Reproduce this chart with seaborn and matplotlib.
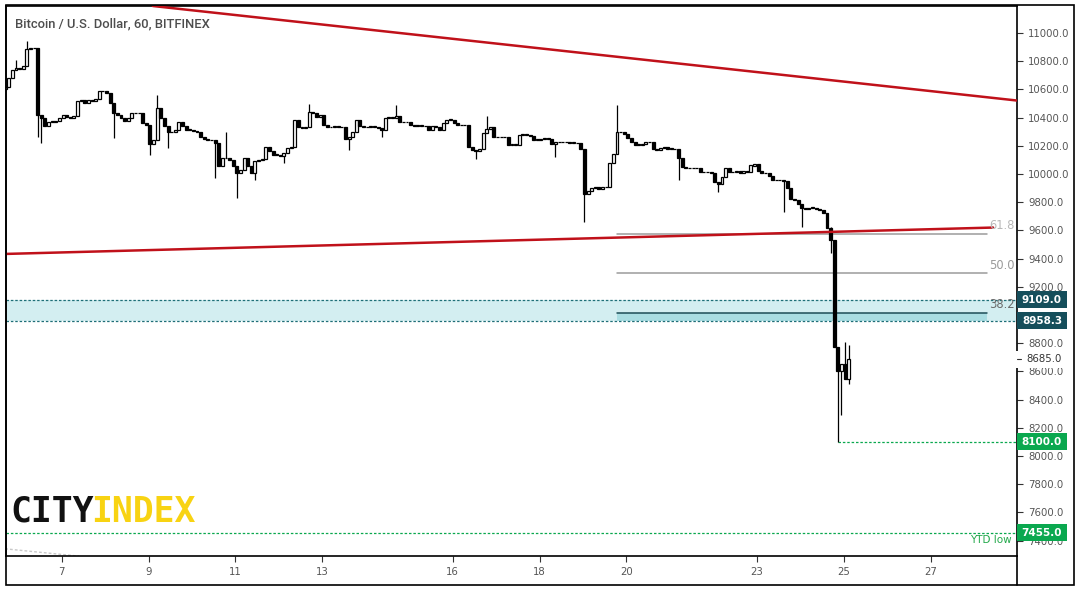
import numpy as np
import pandas as pd
import seaborn as sns
import matplotlib.pyplot as plt
import matplotlib.transforms as mtransforms
from matplotlib.patches import Rectangle
from matplotlib.lines import Line2D

# BTC/USD, 2-hour closes (Sep 2019), one row per day
start_day = 5.70
bar_days = 1 / 12
first_open = 10600
closes = [
    10620, 10680, 10740,
    10750, 10745, 10765, 10885, 10890, 10895, 10420, 10395, 10340, 10370, 10372, 10375,
    10400, 10415, 10405, 10400, 10410, 10520, 10525, 10505, 10525, 10515, 10530, 10585,
    10590, 10575, 10500, 10430, 10415, 10400, 10375, 10395, 10430, 10435, 10430, 10360,
    10345, 10210, 10240, 10465, 10400, 10340, 10300, 10295, 10310, 10365, 10340, 10312,
    10315, 10305, 10300, 10265, 10245, 10240, 10238, 10220, 10060, 10115, 10110, 10100,
    10060, 10005, 10025, 10110, 10060, 10005, 10095, 10100, 10105, 10190, 10160, 10135,
    10135, 10125, 10150, 10185, 10190, 10380, 10330, 10325, 10330, 10440, 10430, 10405,
    10420, 10350, 10335, 10330, 10340, 10330, 10335, 10245, 10260, 10295, 10380, 10340,
    10335, 10330, 10340, 10330, 10325, 10310, 10400, 10405, 10400, 10410, 10370, 10365,
    10370, 10345, 10340, 10345, 10338, 10340, 10312, 10340, 10335, 10315, 10360, 10385,
    10385, 10360, 10350, 10345, 10350, 10190, 10170, 10165, 10175, 10290, 10320, 10330,
    10265, 10260, 10265, 10260, 10205, 10210, 10205, 10275, 10280, 10275, 10270, 10240,
    10240, 10245, 10255, 10250, 10210, 10225, 10230, 10225, 10228, 10220, 10222, 10218,
    10175, 9860, 9880, 9900, 9905, 9895, 9905, 9910, 10075, 10140, 10300, 10295,
    10280, 10255, 10230, 10206, 10208, 10215, 10228, 10225, 10180, 10172, 10185, 10188,
    10180, 10178, 10175, 10110, 10050, 10045, 10040, 10045, 10040, 10015, 10012, 10015,
    10010, 9945, 9930, 9980, 10040, 10015, 10012, 10020, 10010, 10018, 10012, 10060,
    10070, 10020, 10005, 10008, 9985, 9960, 9955, 9958, 9950, 9900, 9820, 9815,
    9790, 9760, 9755, 9762, 9758, 9750, 9745, 9720, 9620, 9530, 8770, 8600,
    8650, 8545, 8685,
]

# wick extremes that stick out of the bodies
spike_bars = [3, 6, 9, 10, 30, 40, 42, 45, 58, 61, 64, 69, 77, 84, 95, 104, 108,
              130, 133, 152, 160, 169, 186, 197, 215, 220, 228, 230, 231, 232, 233]
spike_highs = [10810, 10940, np.nan, np.nan, np.nan, np.nan, 10560, np.nan, np.nan, 10300,
               np.nan, np.nan, np.nan, 10495, np.nan, np.nan, 10490, np.nan, 10410, np.nan,
               np.nan, 10490, np.nan, np.nan, np.nan, np.nan, 9625, np.nan, np.nan, 8810, 8790]
spike_lows = [np.nan, np.nan, 10265, 10220, 10256, 10135, np.nan, 10185, 9972, np.nan,
              9830, 9957, 10078, np.nan, 10170, 10262, np.nan, 10105, np.nan, 10120,
              9660, np.nan, 9960, 9870, 9730, 9625, 9440, 8100, 8290, np.nan, 8510]

# drawn levels
upper_trend_x = [9.10, 29.01]
upper_trend_y = [11191, 10520]
lower_trend_x = [5.72, 28.44]
lower_trend_y = [9433, 9620]
fade_line_x = [5.70, 7.40]
fade_line_y = [7342, 7290]
zone_top = 9109.0
zone_bottom = 8958.3
swing_high_bar = 169
swing_high = 10490
swing_low = 8100
fib_ratios = [0.618, 0.5, 0.382]
fib_labels = ["61.8", "50.0", "38.2"]
fib_end_day = 28.30
ytd_low = 7455.0
last_price = 8685.0

day_ticks = [7, 9, 11, 13, 16, 18, 20, 23, 25, 27]
price_ticks = list(range(7400, 11001, 200))
hidden_price_ticks = [9000]  # sits under the zone tags

# candles
df = pd.DataFrame({"close": closes})
df["day"] = start_day + bar_days * np.arange(len(df))
df["open"] = [first_open] + closes[:-1]
df["high"] = df[["open", "close"]].max(axis=1)
df["low"] = df[["open", "close"]].min(axis=1)
for b, h, l in zip(spike_bars, spike_highs, spike_lows):
    if not np.isnan(h):
        df.loc[b, "high"] = max(df.loc[b, "high"], h)
    if not np.isnan(l):
        df.loc[b, "low"] = min(df.loc[b, "low"], l)

sns.set_style("white")
plt.rcParams["font.family"] = ["DejaVu Sans"]

fig = plt.figure(figsize=(10.8, 5.9), dpi=100)
ax = fig.add_axes([6 / 1080, 34 / 590, 1011 / 1080, 550 / 590])
ax.set_xlim(5.72, 28.99)
ax.set_ylim(7291, 11191)
blend = mtransforms.blended_transform_factory(ax.transAxes, ax.transData)

# zone and levels
teal = "#1f6f78"
ax.axhspan(zone_bottom, zone_top, color="#d3eef1", lw=0, zorder=1)
for lvl in [zone_top, zone_bottom]:
    ax.axhline(lvl, color=teal, lw=0.9, ls=(0, (2, 1.5)), zorder=2)

fib_start_day = df.loc[swing_high_bar, "day"]
fib_prices = [swing_low + r * (swing_high - swing_low) for r in fib_ratios]
ax.fill_between([fib_start_day, fib_end_day], zone_bottom, fib_prices[2],
                color="#a9dde2", lw=0, zorder=1.5)
fib_colors = ["#9b9b9b", "#9b9b9b", "#1d4d57"]
fib_text_colors = ["#b8b8b8", "#9a9a9a", "#6a6a6a"]
for p, lab, c, tc in zip(fib_prices, fib_labels, fib_colors, fib_text_colors):
    ax.plot([fib_start_day, fib_end_day], [p, p], color=c, lw=1.1, zorder=2)
    ax.text(0.998, p + 12, lab, transform=blend,
            ha="right", va="bottom", fontsize=8.3, color=tc, zorder=6)

green = "#0aa84f"
low_day = df.loc[df["low"].idxmin(), "day"]
ax.plot([low_day, 29.5], [swing_low, swing_low], color=green, lw=0.9, ls=(0, (2, 1.5)), zorder=2)
ax.axhline(ytd_low, color=green, lw=0.9, ls=(0, (2, 1.5)), zorder=2)
ax.text(0.995, 7405, "YTD low", transform=blend,
        ha="right", va="center", fontsize=7.5, color="#22a84a")

sns.lineplot(x=fade_line_x, y=fade_line_y, ax=ax, color="#c8c8c8", lw=1.0, ls=(0, (2, 1.5)), zorder=2)
sns.lineplot(x=upper_trend_x, y=upper_trend_y, ax=ax, color="#c0111a", lw=1.8, zorder=5)
sns.lineplot(x=lower_trend_x, y=lower_trend_y, ax=ax, color="#c0111a", lw=1.8, zorder=5)

# candlesticks: hollow up, filled down
up = df["close"] >= df["open"]
body_lo = df[["open", "close"]].min(axis=1)
body_h = (df["close"] - df["open"]).abs().clip(lower=5)
ax.vlines(df["day"], df["low"], df["high"], color="black", lw=0.9, zorder=3)
ax.bar(df["day"], body_h, bottom=body_lo, width=0.068,
       color=np.where(up, "white", "black"), edgecolor="black", linewidth=0.9, zorder=4)

# axes styling
ax.yaxis.tick_right()
ax.set_yticks(price_ticks)
ax.set_yticklabels(["" if v in hidden_price_ticks else f"{v:.1f}" for v in price_ticks])
ax.set_xticks(day_ticks)
ax.set_xticklabels([str(d) for d in day_ticks])
ax.tick_params(axis="y", right=True, left=False, direction="out", length=4, width=0.8,
               color="#333333", labelsize=7.3, labelcolor="#555555", pad=4)
ax.tick_params(axis="x", bottom=True, direction="out", length=4, width=0.8,
               color="#333333", labelsize=7.3, labelcolor="#555555", pad=4)
for s in ax.spines.values():
    s.set_color("black")
    s.set_linewidth(1.2)
ax.set_xlabel("")
ax.set_ylabel("")

# price axis tags
box_w = 50 / 1011
box_h = 120
for price, fc in [(zone_top, "#154e5b"), (zone_bottom, "#154e5b"),
                  (swing_low, green), (ytd_low, green)]:
    ax.add_patch(Rectangle((1.0, price - box_h / 2), box_w, box_h, transform=blend,
                           fc=fc, ec="none", clip_on=False, zorder=10))
    ax.text(1.0 + box_w / 2, price, f"{price:.1f}", transform=blend, ha="center", va="center",
            fontsize=7.5, fontweight="bold", color="white", clip_on=False, zorder=11)
ax.add_patch(Rectangle((0.9985, last_price - 60), box_w + 0.0015, 120, transform=blend,
                       fc="white", ec="none", clip_on=False, zorder=10))
ax.plot([1.0, 1.0 + 4 / 1011], [last_price, last_price], transform=blend, color="#333333",
        lw=0.8, clip_on=False, zorder=11)
ax.text(1.0 + 9 / 1011, last_price, f"{last_price:.1f}", transform=blend, ha="left", va="center",
        fontsize=7.3, color="#333333", clip_on=False, zorder=11)

# outer frame
fig.add_artist(Rectangle((6 / 1080, 5 / 590), 1068 / 1080, 580 / 590, transform=fig.transFigure,
                         fill=False, ec="black", lw=1.2))
fig.add_artist(Line2D([1017 / 1080, 1017 / 1080], [5 / 590, 34 / 590], transform=fig.transFigure,
                      color="black", lw=1.2))

fig.text(15 / 1080, 1 - 24 / 590, "Bitcoin / U.S. Dollar, 60, BITFINEX", va="center", ha="left",
         fontsize=9.4, family="Roboto", fontweight="medium", color="#4d4d4d")
fig.text(10 / 1080, 1 - 522 / 590, "CITY", va="baseline", ha="left", fontsize=25,
         family="DejaVu Sans Mono", fontweight="bold", color="#111111")
fig.text(91 / 1080, 1 - 522 / 590, "INDEX", va="baseline", ha="left", fontsize=25,
         family="DejaVu Sans Mono", fontweight="bold", color="#f8d312")

fig.savefig("out.png", dpi=100)
